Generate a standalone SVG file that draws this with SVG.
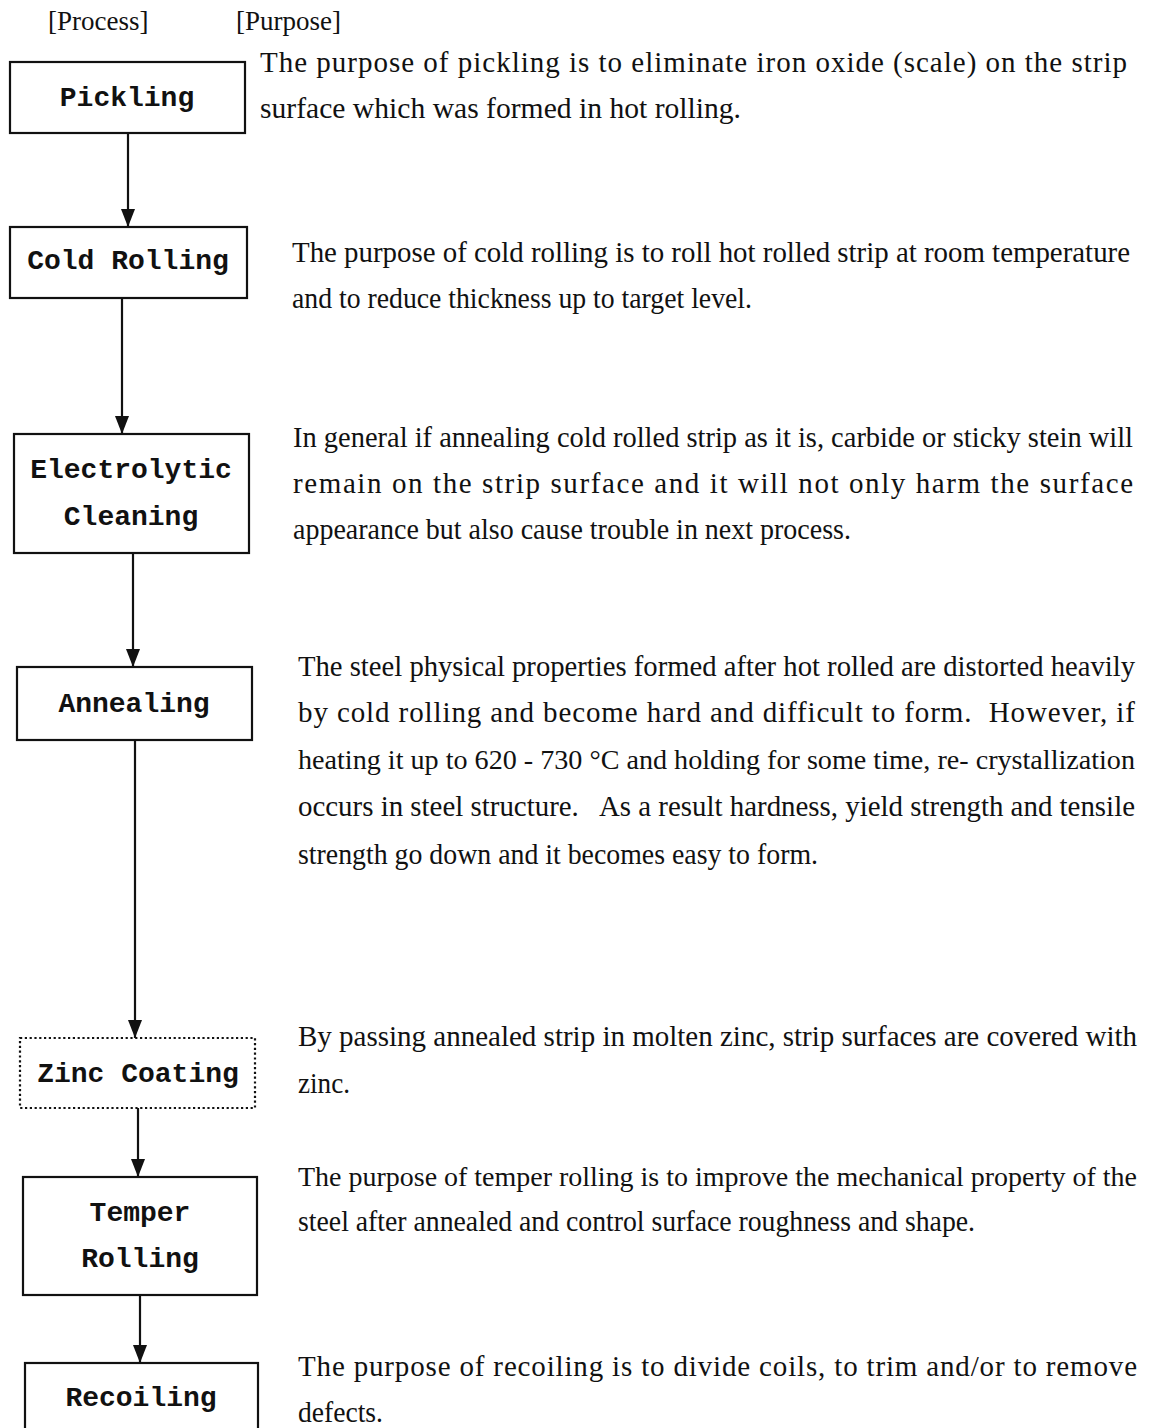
<svg xmlns="http://www.w3.org/2000/svg" width="1150" height="1428" viewBox="0 0 1150 1428">
  <style>
    .box { fill: #ffffff; stroke: #111111; stroke-width: 2.2; }
    .dotted { stroke-dasharray: 2.2 2.6; }
    .label { font-family: "Liberation Mono", "Courier New", monospace; font-weight: bold; font-size: 28px; fill: #111111; text-anchor: middle; }
    .head { font-family: "Liberation Serif", "Times New Roman", serif; font-size: 27px; fill: #111111; }
    .body { font-family: "Liberation Serif", "Times New Roman", serif; font-size: 29px; fill: #111111; }
    .tight { font-size: 27px; }
  </style>
  <defs>
    <!-- downward filled arrowhead, tip at the end of the line -->
    <marker id="arrowDown" markerUnits="userSpaceOnUse" markerWidth="14" markerHeight="18" refX="7" refY="18" orient="0" viewBox="0 0 14 18">
      <path d="M0,0 L14,0 L7,18 Z" fill="#111111"/>
    </marker>
  </defs>

  <!-- column headings -->
  <g id="headings">
    <text class="head" x="48" y="30">[Process]</text>
    <text class="head" x="236" y="30">[Purpose]</text>
  </g>

  <!-- connectors between process steps -->
  <g id="connectors" stroke="#111111" stroke-width="2.2" fill="none">
    <line x1="128" y1="133" x2="128" y2="227" marker-end="url(#arrowDown)"/>
    <line x1="122" y1="298" x2="122" y2="434" marker-end="url(#arrowDown)"/>
    <line x1="133" y1="553" x2="133" y2="667" marker-end="url(#arrowDown)"/>
    <line x1="135" y1="740" x2="135" y2="1038" marker-end="url(#arrowDown)"/>
    <line x1="138" y1="1108" x2="138" y2="1177" marker-end="url(#arrowDown)"/>
    <line x1="140" y1="1295" x2="140" y2="1363" marker-end="url(#arrowDown)"/>
  </g>

  <!-- process steps -->
  <g id="pickling">
    <rect class="box" x="10" y="62" width="235" height="71"/>
    <text class="label" x="127" y="106">Pickling</text>
  </g>
  <g id="cold-rolling">
    <rect class="box" x="10" y="227" width="237" height="71"/>
    <text class="label" x="128" y="269">Cold Rolling</text>
  </g>
  <g id="electrolytic-cleaning">
    <rect class="box" x="14" y="434" width="235" height="119"/>
    <text class="label" x="131" y="478">Electrolytic</text>
    <text class="label" x="131" y="525">Cleaning</text>
  </g>
  <g id="annealing">
    <rect class="box" x="17" y="667" width="235" height="73"/>
    <text class="label" x="134" y="712">Annealing</text>
  </g>
  <g id="zinc-coating">
    <rect class="box dotted" x="20" y="1038" width="235" height="70"/>
    <text class="label" x="138" y="1082">Zinc Coating</text>
  </g>
  <g id="temper-rolling">
    <rect class="box" x="23" y="1177" width="234" height="118"/>
    <text class="label" x="140" y="1221">Temper</text>
    <text class="label" x="140" y="1267">Rolling</text>
  </g>
  <g id="recoiling">
    <rect class="box" x="25" y="1363" width="233" height="80"/>
    <text class="label" x="141" y="1406">Recoiling</text>
  </g>

  <!-- purpose descriptions -->
  <g id="purpose-pickling" class="body">
    <text x="260" y="72" textLength="867" lengthAdjust="spacing">The purpose of pickling is to eliminate iron oxide (scale) on the strip</text>
    <text x="260" y="118" textLength="481" lengthAdjust="spacingAndGlyphs">surface which was formed in hot rolling.</text>
  </g>
  <g id="purpose-cold-rolling" class="body">
    <text x="292" y="262" textLength="838" lengthAdjust="spacingAndGlyphs">The purpose of cold rolling is to roll hot rolled strip at room temperature</text>
    <text x="292" y="308" textLength="460" lengthAdjust="spacingAndGlyphs">and to reduce thickness up to target level.</text>
  </g>
  <g id="purpose-electrolytic-cleaning" class="body">
    <text x="293" y="447" textLength="840" lengthAdjust="spacingAndGlyphs">In general if annealing cold rolled strip as it is, carbide or sticky stein will</text>
    <text x="293" y="493" textLength="840" lengthAdjust="spacing">remain on the strip surface and it will not only harm the surface</text>
    <text x="293" y="539" textLength="558" lengthAdjust="spacingAndGlyphs">appearance but also cause trouble in next process.</text>
  </g>
  <g id="purpose-annealing" class="body">
    <text x="298" y="676" textLength="837" lengthAdjust="spacingAndGlyphs">The steel physical properties formed after hot rolled are distorted heavily</text>
    <text x="298" y="722" textLength="837" lengthAdjust="spacing" xml:space="preserve">by cold rolling and become hard and difficult to form.  However, if</text>
    <text class="tight" x="298" y="769" textLength="837" lengthAdjust="spacingAndGlyphs">heating it up to 620 - 730 °C and holding for some time, re- crystallization</text>
    <text x="298" y="816" textLength="837" lengthAdjust="spacingAndGlyphs" xml:space="preserve">occurs in steel structure.   As a result hardness, yield strength and tensile</text>
    <text x="298" y="864" textLength="520" lengthAdjust="spacingAndGlyphs">strength go down and it becomes easy to form.</text>
  </g>
  <g id="purpose-zinc-coating" class="body">
    <text x="298" y="1046" textLength="839" lengthAdjust="spacingAndGlyphs">By passing annealed strip in molten zinc, strip surfaces are covered with</text>
    <text x="298" y="1093" textLength="52" lengthAdjust="spacingAndGlyphs">zinc.</text>
  </g>
  <g id="purpose-temper-rolling" class="body">
    <text class="tight" x="298" y="1186" textLength="839" lengthAdjust="spacingAndGlyphs">The purpose of temper rolling is to improve the mechanical property of the</text>
    <text x="298" y="1231" textLength="677" lengthAdjust="spacingAndGlyphs">steel after annealed and control surface roughness and shape.</text>
  </g>
  <g id="purpose-recoiling" class="body">
    <text x="298" y="1376" textLength="839" lengthAdjust="spacing">The purpose of recoiling is to divide coils, to trim and/or to remove</text>
    <text x="298" y="1422" textLength="85" lengthAdjust="spacingAndGlyphs">defects.</text>
  </g>
</svg>
